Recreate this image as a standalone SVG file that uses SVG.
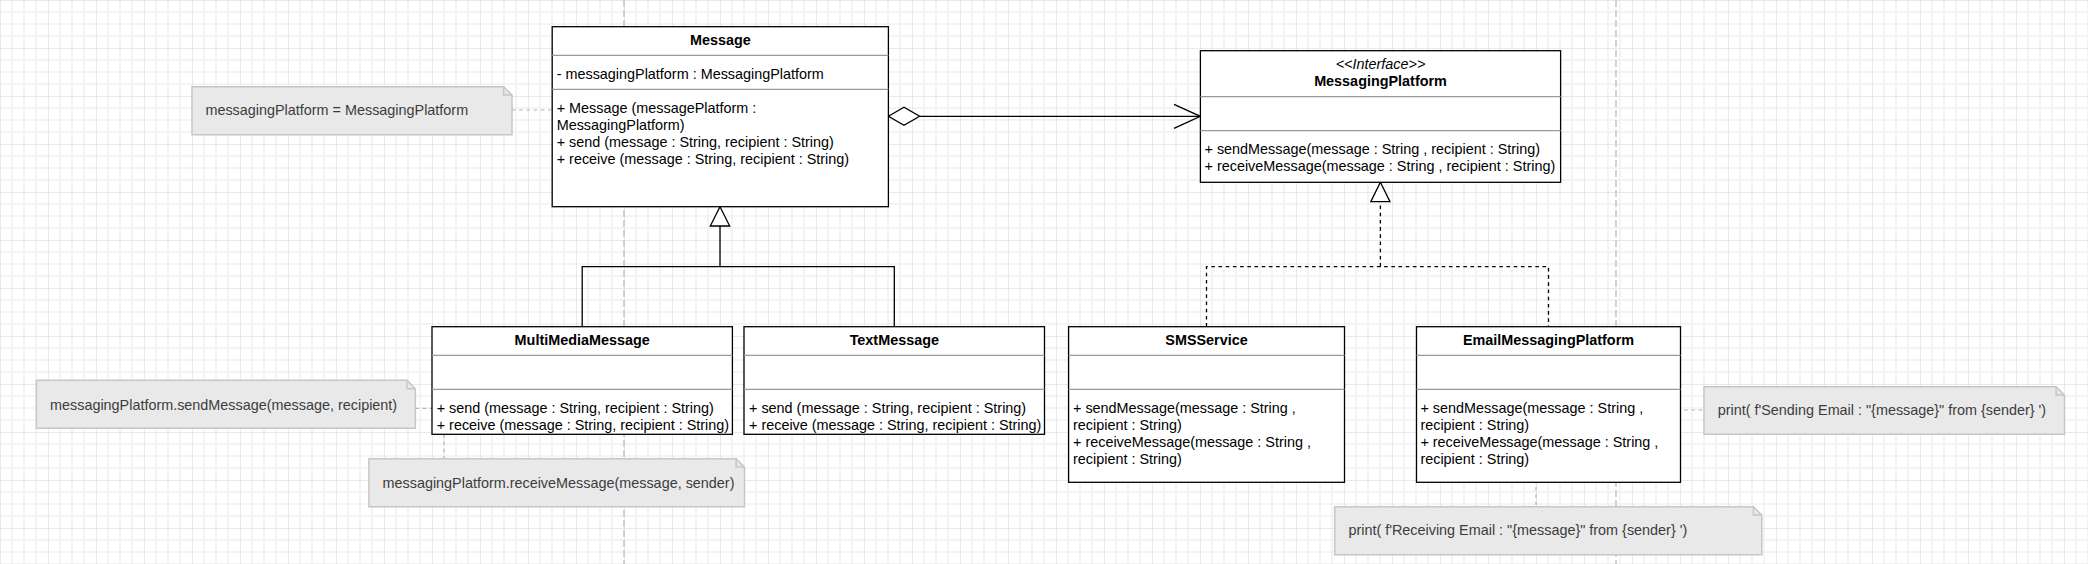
<svg xmlns="http://www.w3.org/2000/svg" width="2088" height="564" viewBox="0 0 2088 564">
<style>
.box{fill:#ffffff;stroke:#000000;stroke-width:1.3}
.sep{stroke:#9a9a9a;stroke-width:1.3}
.t{font-family:"Liberation Sans",Arial,Helvetica,sans-serif;font-size:14.4px;fill:#000000}
.b{font-weight:bold;text-anchor:middle}
.i{font-style:italic;text-anchor:middle}
.note{fill:#e9e9e9;stroke:#c6c6c6;stroke-width:1.5}
.nt{font-family:"Liberation Sans",Arial,Helvetica,sans-serif;font-size:14.4px;fill:#3c3c3c}
.ln{fill:none;stroke:#000000;stroke-width:1.3}
.dash{fill:none;stroke:#000000;stroke-width:1.3;stroke-dasharray:3.6 3.6}
.gd{fill:none;stroke:#b4b4b4;stroke-width:1.2;stroke-dasharray:3.6 3.6}
.page{fill:none;stroke:#c4c4c4;stroke-width:1.5;stroke-dasharray:7 3}
</style>
<defs>
<pattern id="grid" width="48" height="48" patternUnits="userSpaceOnUse">
<path d="M12 0V48M24 0V48M36 0V48M0 12H48M0 24H48M0 36H48" fill="none" stroke="#f1f1f1" stroke-width="1.5"/>
<path d="M0 0V48M0 0H48" fill="none" stroke="#d4d4d4" stroke-width="1"/>
</pattern>
</defs>
<rect x="0" y="0" width="2088" height="564" fill="#ffffff"/>
<rect x="0" y="0" width="2088" height="564" fill="url(#grid)"/>
<line class="page" x1="624" y1="0" x2="624" y2="564"/>
<line class="page" x1="1616" y1="0" x2="1616" y2="564"/>

<g id="connectors">
<path class="ln" d="M888.4 116.3L904 107.3L919.6 116.3L904 125.3Z" fill="#ffffff" style="fill:#ffffff"/>
<line class="ln" x1="919.6" y1="116.3" x2="1200.4" y2="116.3"/>
<polyline class="ln" points="1174,104.3 1200.4,116.3 1174,128.3"/>
<polyline class="ln" points="582.2,326.7 582.2,266.7 894.3,266.7 894.3,326.7"/>
<line class="ln" x1="720" y1="266.7" x2="720" y2="226"/>
<path class="ln" d="M720 206.7L729.7 226L710.3 226Z" style="fill:#ffffff"/>
<polyline class="dash" points="1206.5,326.7 1206.5,266.7 1548.5,266.7 1548.5,326.7"/>
<line class="dash" x1="1380.4" y1="266.7" x2="1380.4" y2="201.7"/>
<path class="ln" d="M1380.4 182.3L1390 201.7L1370.8 201.7Z" style="fill:#ffffff"/>
<line class="gd" x1="512" y1="110" x2="552" y2="110"/>
<line class="gd" x1="415.4" y1="408.3" x2="432" y2="408.3"/>
<line class="gd" x1="444" y1="434.3" x2="444" y2="458.7"/>
<line class="gd" x1="1641" y1="410" x2="1704" y2="410"/>
<line class="gd" x1="1536" y1="458.3" x2="1536" y2="506.7"/>
</g>

<g id="Message">
<rect class="box" x="552.2" y="26.7" width="336.2" height="180"/>
<line class="sep" x1="552.2" y1="55.3" x2="888.4" y2="55.3"/>
<line class="sep" x1="552.2" y1="89.3" x2="888.4" y2="89.3"/>
<text class="t b" x="720.3" y="44.5">Message</text>
<text class="t" x="556.7" y="78.5">- messagingPlatform : MessagingPlatform</text>
<text class="t" x="556.7" y="112.8">+ Message (messagePlatform :</text>
<text class="t" x="556.7" y="130">MessagingPlatform)</text>
<text class="t" x="556.7" y="147.2">+ send (message : String, recipient : String)</text>
<text class="t" x="556.7" y="164.4">+ receive (message : String, recipient : String)</text>
</g>

<g id="MessagingPlatform">
<rect class="box" x="1200.4" y="50.7" width="360.2" height="131.6"/>
<line class="sep" x1="1200.4" y1="96.7" x2="1560.6" y2="96.7"/>
<line class="sep" x1="1200.4" y1="130.7" x2="1560.6" y2="130.7"/>
<text class="t i" x="1380.5" y="68.5">&lt;&lt;Interface&gt;&gt;</text>
<text class="t b" x="1380.5" y="85.5">MessagingPlatform</text>
<text class="t" x="1204.5" y="153.5">+ sendMessage(message : String , recipient : String)</text>
<text class="t" x="1204.5" y="170.5">+ receiveMessage(message : String , recipient : String)</text>
</g>

<g id="MultiMediaMessage">
<rect class="box" x="432" y="326.7" width="300.4" height="107.6"/>
<line class="sep" x1="432" y1="355.3" x2="732.4" y2="355.3"/>
<line class="sep" x1="432" y1="389.3" x2="732.4" y2="389.3"/>
<text class="t b" x="582.2" y="344.5">MultiMediaMessage</text>
<text class="t" x="436.7" y="412.5">+ send (message : String, recipient : String)</text>
<text class="t" x="436.7" y="429.5">+ receive (message : String, recipient : String)</text>
</g>

<g id="TextMessage">
<rect class="box" x="744" y="326.7" width="300.5" height="107.6"/>
<line class="sep" x1="744" y1="355.3" x2="1044.5" y2="355.3"/>
<line class="sep" x1="744" y1="389.3" x2="1044.5" y2="389.3"/>
<text class="t b" x="894.3" y="344.5">TextMessage</text>
<text class="t" x="749" y="412.5">+ send (message : String, recipient : String)</text>
<text class="t" x="749" y="429.5">+ receive (message : String, recipient : String)</text>
</g>

<g id="SMSService">
<rect class="box" x="1068.6" y="326.7" width="275.9" height="155.6"/>
<line class="sep" x1="1068.6" y1="355.3" x2="1344.5" y2="355.3"/>
<line class="sep" x1="1068.6" y1="389.3" x2="1344.5" y2="389.3"/>
<text class="t b" x="1206.5" y="344.5">SMSService</text>
<text class="t" x="1073" y="412.5">+ sendMessage(message : String ,</text>
<text class="t" x="1073" y="429.7">recipient : String)</text>
<text class="t" x="1073" y="447">+ receiveMessage(message : String ,</text>
<text class="t" x="1073" y="464.2">recipient : String)</text>
</g>

<g id="EmailMessagingPlatform">
<rect class="box" x="1416.5" y="326.7" width="264" height="155.6"/>
<line class="sep" x1="1416.5" y1="355.3" x2="1680.5" y2="355.3"/>
<line class="sep" x1="1416.5" y1="389.3" x2="1680.5" y2="389.3"/>
<text class="t b" x="1548.5" y="344.5">EmailMessagingPlatform</text>
<text class="t" x="1420.4" y="412.5">+ sendMessage(message : String ,</text>
<text class="t" x="1420.4" y="429.7">recipient : String)</text>
<text class="t" x="1420.4" y="447">+ receiveMessage(message : String ,</text>
<text class="t" x="1420.4" y="464.2">recipient : String)</text>
</g>

<g id="note1">
<path class="note" d="M192 86.7H503.6L512 95.1V134.7H192Z"/>
<path d="M503.6 86.7V95.1H512" fill="none" stroke="#c6c6c6" stroke-width="1.5"/>
<text class="nt" x="205.4" y="115">messagingPlatform = MessagingPlatform</text>
</g>

<g id="note2">
<path class="note" d="M36.4 380.3H407L415.4 388.7V428.3H36.4Z"/>
<path d="M407 380.3V388.7H415.4" fill="none" stroke="#c6c6c6" stroke-width="1.5"/>
<text class="nt" x="50" y="409.5">messagingPlatform.sendMessage(message, recipient)</text>
</g>

<g id="note3">
<path class="note" d="M368.9 458.7H736.1L744.5 467.1V506.7H368.9Z"/>
<path d="M736.1 458.7V467.1H744.5" fill="none" stroke="#c6c6c6" stroke-width="1.5"/>
<text class="nt" x="382.5" y="487.5">messagingPlatform.receiveMessage(message, sender)</text>
</g>

<g id="note4">
<path class="note" d="M1704 386.7H2056.1L2064.5 395.1V434.3H1704Z"/>
<path d="M2056.1 386.7V395.1H2064.5" fill="none" stroke="#c6c6c6" stroke-width="1.5"/>
<text class="nt" x="1717.7" y="415">print( f'Sending Email : "{message}" from {sender} ')</text>
</g>

<g id="note5">
<path class="note" d="M1334.7 506.7H1753.4L1761.8 515.1V554.7H1334.7Z"/>
<path d="M1753.4 506.7V515.1H1761.8" fill="none" stroke="#c6c6c6" stroke-width="1.5"/>
<text class="nt" x="1348.4" y="535">print( f'Receiving Email : "{message}" from {sender} ')</text>
</g>
</svg>
